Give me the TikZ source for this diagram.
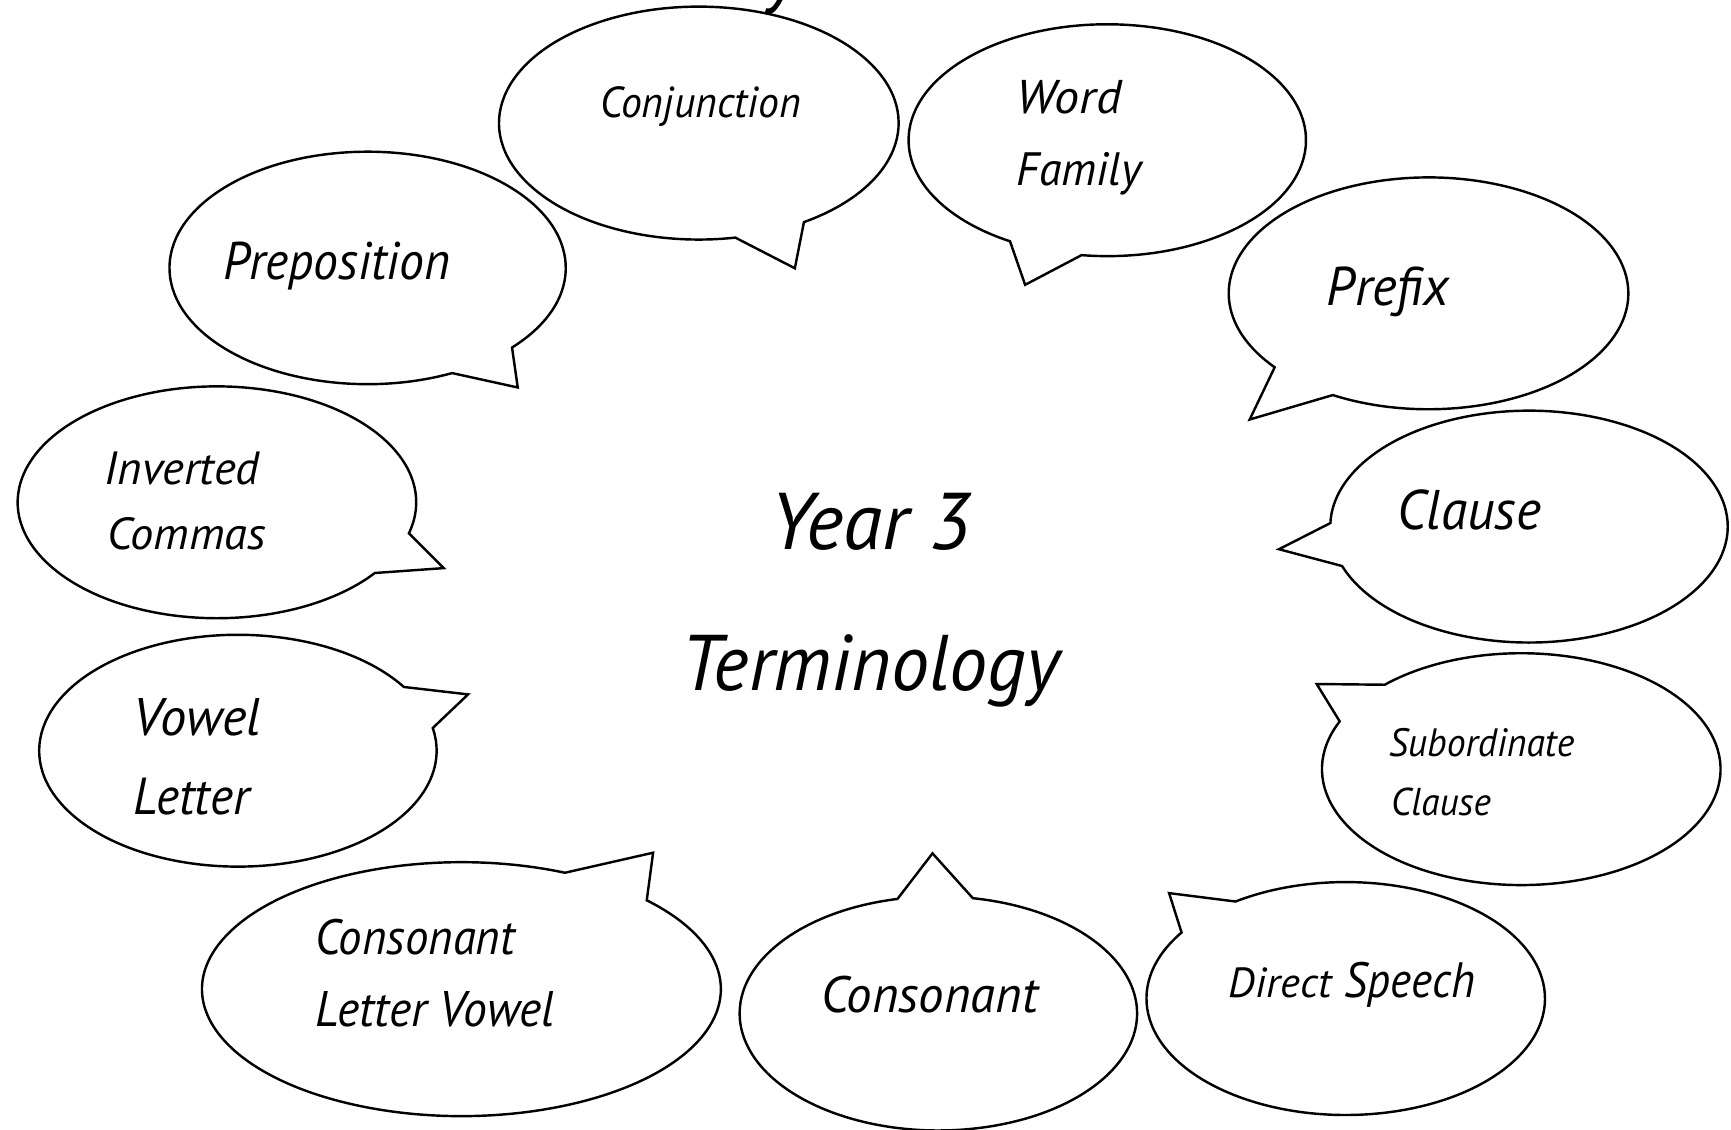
\documentclass[tikz,border=0pt]{standalone}
\usepackage{fontspec}
\setmainfont{PT Sans}
\usepackage{graphicx}
\newlength\pxu
\setlength\pxu{0.5pt}
\newcommand\lbl[6]{\node[lbltext] (#1) at (#2,-#3) {\resizebox{#4\pxu}{#5\pxu}{\itshape #6}};}
\tikzset{
  bubbleline/.style={draw=black,line width=1.1pt,fill=white,line join=miter},
  lbltext/.style={anchor=base west,inner sep=0pt,outer sep=0pt,text=black}
}
\begin{document}
\begin{tikzpicture}[x=0.5pt,y=0.5pt]
\useasboundingbox (0,0) rectangle (1568,-1023);
\fill[white] (0,0) rectangle (1568,-1023);
\clip (0,0) rectangle (1568,-1023);
% cut-off title fragment
\node[anchor=south,inner sep=0pt] (titlefrag) at (710,-14) {\fontsize{36}{40}\selectfont\itshape y};
% speech bubbles: cx/cy/rx/ry/Ax/Ay/Tx/Ty/Bx/By (y measured downward)
\foreach \cx/\cy/\rx/\ry/\ax/\ay/\tx/\ty/\bx/\by in {
  633/111.5/181/105.5/666/215/720/243/728/201,
  1003/127/180/105/916/217.4/928.6/258/979.5/232,
  1294/265.7/181/105/1154/333/1132/380/1206.5/358.7,
  333/242.7/179.5/105.3/409.6/338/469/351/466/316,
  196.5/455/180.5/105/370/483/402/514.6/339/518.8,
  215.5/680/180/105/365/622.6/424/629/391.4/659.5,
  418/896/235/115/512.6/789.6/591.6/772.4/586.5/815.2,
  850/918/180/106/813/814.4/844.7/773/881/814.4,
  1219/904.5/180.5/105.5/1071/845/1059/809/1119.6/817,
  1378/696.7/180.5/105/1214.5/653.7/1192.7/619.6/1254.7/620.5,
  1385/477/180/105/1205.4/473.8/1158.5/497.5/1216/512.7}{
  \pgfmathsetmacro\angA{atan2((\cy-\ay)/\ry,(\ax-\cx)/\rx)}
  \pgfmathsetmacro\angB{atan2((\cy-\by)/\ry,(\bx-\cx)/\rx)}
  \pgfmathsetmacro\angD{mod(\angB-\angA+540,360)-180}
  \pgfmathsetmacro\angS{ifthenelse(\angD>0,\angB,\angA)}
  \pgfmathsetmacro\angE{\angS+360-abs(\angD)}
  \draw[bubbleline] ({\cx+\rx*cos(\angS)},{-\cy+\ry*sin(\angS)})
     arc[start angle=\angS,end angle=\angE,x radius=\rx,y radius=\ry]
     -- (\tx,-\ty) -- cycle;
}
% labels
\lbl{conj}{543.5}{106}{182}{28}{Conjunction}
\lbl{word}{921}{102.7}{95}{30}{Word}
\lbl{family}{921}{167.6}{113}{30}{Family}
\lbl{prefix}{1202}{276.3}{111}{35}{Prefix}
\lbl{prep}{202}{253.6}{206}{34}{Preposition}
\lbl{inv}{95}{438.5}{140}{29.5}{Inverted}
\lbl{commas}{97}{498}{144}{29}{Commas}
\lbl{vowel}{121}{666.5}{115}{33.5}{Vowel}
\lbl{letter}{121}{738}{105}{33}{Letter}
\lbl{clvone}{285.5}{865}{181}{32}{Consonant}
\lbl{clvtwo}{285.5}{930}{217}{31.7}{Letter Vowel}
\lbl{cons}{743.7}{917.3}{196.5}{33}{Consonant}
\lbl{direct}{1113}{904}{93}{27}{Direct}
\lbl{speech}{1218}{904}{118}{32}{Speech}
\lbl{sub}{1258}{685.4}{168}{25.5}{Subordinate}
\lbl{subcl}{1260}{739}{90.5}{25}{Clause}
\lbl{clause}{1266}{480}{130}{36}{Clause}
\lbl{year}{697.5}{497.6}{182.5}{51}{Year 3}
\lbl{term}{617.5}{625.6}{342}{50.6}{Terminology}
\end{tikzpicture}
\end{document}
